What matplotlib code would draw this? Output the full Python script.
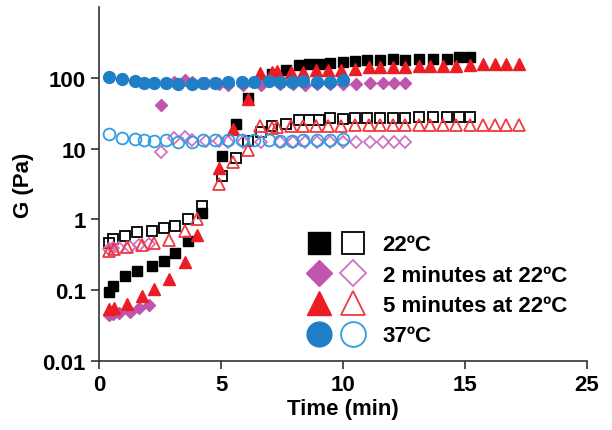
import matplotlib
matplotlib.use("Agg")
import matplotlib.pyplot as plt
from matplotlib.legend_handler import HandlerTuple

plt.rcParams['font.family'] = ['Liberation Sans', 'DejaVu Sans']
plt.rcParams['font.weight'] = 'bold'

# 22 C
t_22 = [0.4, 0.55, 1.05, 1.55, 2.15, 2.65, 3.1, 3.65, 4.2, 5.05, 5.6, 6.1, 6.65, 7.1,
        7.65, 8.2, 8.6, 9.0, 9.45, 10.0, 10.5, 11.0, 11.5, 12.05, 12.55, 13.1, 13.7,
        14.25, 14.75, 15.2]
g1_22 = [0.096, 0.114, 0.16, 0.19, 0.22, 0.26, 0.34, 0.50, 1.22, 8.0, 22, 52, 90, 115,
         130, 150, 155, 160, 165, 170, 173, 178, 178, 184, 182, 188, 184, 188, 198, 198]
g2_22 = [0.47, 0.53, 0.59, 0.66, 0.685, 0.75, 0.82, 1.0, 1.55, 4.1, 7.4, 12.7, 17, 21,
         22.7, 25.8, 25.3, 25.8, 27.3, 26, 27.3, 27.3, 27.3, 27.3, 27.3, 28.2, 28.2,
         28.2, 28.2, 28.2]

# 2 minutes at 22 C
t_2m = [0.4, 0.55, 0.8, 1.25, 1.65, 2.05, 2.55, 3.05, 3.5, 3.8, 4.4, 4.9, 5.3, 5.9,
        6.65, 7.4, 7.95, 8.45, 8.95, 9.45, 10.0, 10.55, 11.1, 11.65, 12.1, 12.55]
g1_2m = [0.045, 0.046, 0.047, 0.049, 0.056, 0.062, 42, 88, 93, 88, 85, 81, 79, 79,
         80, 81, 83, 80, 83, 83, 83, 83, 84, 84, 84, 84]
g2_2m = [0.38, 0.39, 0.40, 0.41, 0.43, 0.45, 9.0, 14, 14.5, 13.3, 12.8, 12.8, 12.5,
         12.5, 12.3, 12.3, 12.3, 12.5, 12.5, 12.5, 12.5, 12.3, 12.3, 12.3, 12.5, 12.5]

# 5 minutes at 22 C
t_5m = [0.4, 0.6, 1.15, 1.75, 2.25, 2.85, 3.5, 4.0, 4.9, 5.5, 6.1, 6.6, 7.1, 7.3, 7.85,
        8.35, 8.9, 9.4, 9.9, 10.5, 11.05, 11.5, 12.05, 12.55, 13.1, 13.55, 14.1, 14.65,
        15.2, 15.75, 16.25, 16.7, 17.2]
g1_5m = [0.054, 0.057, 0.064, 0.082, 0.105, 0.145, 0.25, 0.61, 5.3, 18.8, 51, 116, 120,
         125, 120, 122, 129, 129, 131, 136, 141, 141, 144, 144, 147, 147, 148, 148, 151,
         157, 157, 157, 157]
g2_5m = [0.364, 0.385, 0.41, 0.43, 0.46, 0.52, 0.68, 1.0, 3.2, 6.5, 9.6, 21, 19.7, 20.3,
         21, 21, 21, 21, 21, 21.4, 21.4, 21.4, 21.4, 21.4, 21.4, 21.4, 21.4, 21.9, 21.9,
         21.9, 21.9, 21.9, 21.9]

# 37 C
t_37 = [0.4, 0.95, 1.45, 1.85, 2.25, 2.75, 3.25, 3.8, 4.25, 4.75, 5.3, 5.85, 6.35, 6.95,
        7.4, 7.9, 8.35, 8.95, 9.45, 10.0]
g1_37 = [104, 98, 90, 86, 84, 84, 81, 81, 84, 86, 88, 87, 88, 90, 88, 88, 91, 88, 88, 93]
g2_37 = [16, 14.2, 13.9, 13.2, 12.7, 13.2, 12.5, 12.5, 13.2, 13.2, 13.2, 13.2, 13.2,
         13.2, 12.8, 12.8, 13.2, 13.2, 13.2, 13.6]

labels = ['22ºC', '2 minutes at 22ºC', '5 minutes at 22ºC', '37ºC']
xticks = [0, 5, 10, 15, 20]
xticklabels = ['0', '5', '10', '15', '25']
yticks = [0.01, 0.1, 1, 10, 100]
yticklabels = ['0.01', '0.1', '1', '10', '100']

series = [
    (t_22, g1_22, g2_22, 's', 'black', 'black', 7.5),
    (t_2m, g1_2m, g2_2m, 'D', '#bf55ad', '#d070c4', 6.5),
    (t_5m, g1_5m, g2_5m, '^', '#ec1c24', '#ee3a40', 8.5),
    (t_37, g1_37, g2_37, 'o', '#1f7fc6', '#2f9ee0', 8.5),
]

fig = plt.figure(figsize=(6.12, 4.31), dpi=100)
ax = fig.add_axes([0.162, 0.16, 0.797, 0.821])

handles = []
for t, g1, g2, m, c1, c2, ms in series:
    h1, = ax.plot(t, g1, m, color=c1, ms=ms, mec=c1, ls='none')
    h2, = ax.plot(t, g2, m, mfc='none', mec=c2, mew=1.3, ms=ms, ls='none')
    handles.append((h1, h2))

ax.set_yscale('log')
ax.set_ylim(0.01, 1000)
ax.set_xlim(0, 20)
ax.set_yticks(yticks)
ax.set_yticklabels(yticklabels)
ax.minorticks_off()
ax.set_xticks(xticks)
ax.set_xticklabels(xticklabels)
ax.tick_params(labelsize=16, length=6, width=1.2, color='#333333')
for s in ['top', 'right']:
    ax.spines[s].set_visible(False)
for s in ['left', 'bottom']:
    ax.spines[s].set_linewidth(1.2)
    ax.spines[s].set_color('#333333')

ax.set_xlabel('Time (min)', fontsize=16, fontweight='bold', labelpad=2)
ax.set_ylabel('G (Pa)', fontsize=16, fontweight='bold', labelpad=6)

leg = ax.legend(handles, labels, handler_map={tuple: HandlerTuple(ndivide=None, pad=0.6)},
                frameon=False, loc='lower left', bbox_to_anchor=(0.39, -0.015),
                fontsize=16, markerscale=2.1, handlelength=2.4, handletextpad=0.9,
                labelspacing=0.42)
for txt in leg.get_texts():
    txt.set_fontweight('bold')

fig.savefig('out.png', dpi=100)
